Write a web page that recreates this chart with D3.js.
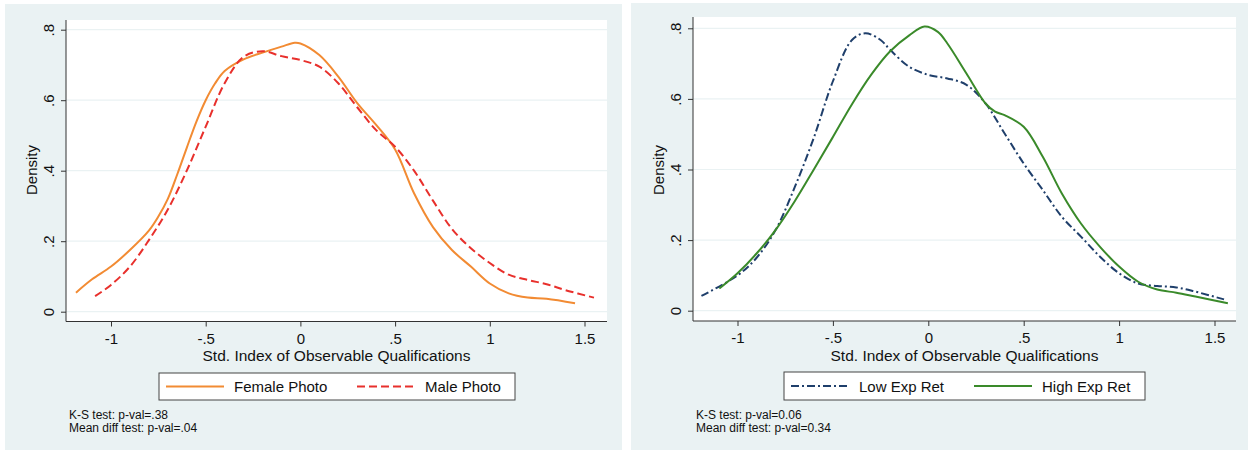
<!DOCTYPE html>
<html>
<head>
<meta charset="utf-8">
<script src="https://cdn.jsdelivr.net/npm/d3@7"></script>
<style>
  html, body { margin: 0; padding: 0; background: #ffffff; }
  svg { display: block; font-family: "Liberation Sans", Arial, Helvetica, sans-serif; }
</style>
</head>
<body>
<svg id="chart" width="1250" height="453"></svg>
<script>
// ---------- DATA ----------
const xTicks = [-1, -0.5, 0, 0.5, 1, 1.5];
const xTickLabels = ["-1", "-.5", "0", ".5", "1", "1.5"];
const yTicks = [0, 0.2, 0.4, 0.6, 0.8];
const yTickLabels = ["0", ".2", ".4", ".6", ".8"];

const xTitle = "Std. Index of Observable Qualifications";
const yTitle = "Density";

// Left panel
const femaleX = [-1.185, -1.1, -1.0, -0.9, -0.8, -0.75, -0.7, -0.65, -0.6, -0.55, -0.5, -0.45, -0.4, -0.3, -0.2, -0.1, -0.03, 0.0, 0.1, 0.2, 0.3, 0.4, 0.5, 0.6, 0.7, 0.8, 0.9, 1.0, 1.1, 1.2, 1.3, 1.45];
const femaleY = [0.054, 0.092, 0.128, 0.175, 0.23, 0.27, 0.32, 0.39, 0.465, 0.538, 0.60, 0.648, 0.683, 0.716, 0.735, 0.752, 0.763, 0.761, 0.728, 0.667, 0.592, 0.53, 0.46, 0.336, 0.24, 0.175, 0.128, 0.08, 0.052, 0.04, 0.037, 0.024];
const maleX = [-1.084, -1.0, -0.9, -0.8, -0.7, -0.6, -0.5, -0.4, -0.3, -0.2, -0.1, 0.0, 0.1, 0.2, 0.3, 0.4, 0.5, 0.6, 0.7, 0.8, 0.9, 1.0, 1.1, 1.2, 1.3, 1.4, 1.55];
const maleY = [0.044, 0.076, 0.128, 0.203, 0.29, 0.40, 0.525, 0.648, 0.723, 0.739, 0.725, 0.714, 0.695, 0.648, 0.58, 0.515, 0.468, 0.40, 0.315, 0.235, 0.18, 0.138, 0.105, 0.09, 0.078, 0.061, 0.04];

// Right panel
const lowX = [-1.189, -1.0, -0.9, -0.8, -0.7, -0.6, -0.5, -0.4, -0.33, -0.25, -0.2, -0.1, 0.0, 0.1, 0.2, 0.3, 0.4, 0.5, 0.6, 0.7, 0.8, 0.9, 1.0, 1.1, 1.2, 1.3, 1.4, 1.55];
const lowY = [0.042, 0.10, 0.15, 0.229, 0.35, 0.49, 0.65, 0.767, 0.786, 0.767, 0.739, 0.691, 0.668, 0.658, 0.64, 0.587, 0.502, 0.417, 0.342, 0.266, 0.21, 0.153, 0.106, 0.077, 0.07, 0.066, 0.054, 0.032];
const highX = [-1.095, -1.0, -0.9, -0.8, -0.7, -0.6, -0.5, -0.4, -0.3, -0.2, -0.1, -0.02, 0.05, 0.1, 0.2, 0.3, 0.35, 0.4, 0.5, 0.6, 0.7, 0.8, 0.9, 1.0, 1.1, 1.2, 1.3, 1.4, 1.57];
const highY = [0.063, 0.106, 0.162, 0.229, 0.31, 0.40, 0.492, 0.585, 0.668, 0.735, 0.78, 0.805, 0.79, 0.757, 0.672, 0.587, 0.564, 0.554, 0.521, 0.436, 0.332, 0.247, 0.181, 0.125, 0.082, 0.06, 0.051, 0.04, 0.021];

const leftLabels = ["Female Photo", "Male Photo"];
const rightLabels = ["Low Exp Ret", "High Exp Ret"];
const leftNotes = ["K-S test: p-val=.38", "Mean diff test: p-val=.04"];
const rightNotes = ["K-S test: p-val=0.06", "Mean diff test: p-val=0.34"];

// ---------- DRAW ----------
const svg = d3.select("#chart");
const BG = "#eaf2f3";

function zip(xs, ys) { return xs.map((x, i) => ({ x: x, y: ys[i] })); }

function drawPanel(cfg) {
  const g = svg.append("g");
  g.append("rect").attr("x", cfg.bg[0]).attr("y", cfg.bg[1])
    .attr("width", cfg.bg[2]).attr("height", cfg.bg[3]).attr("fill", BG);

  const x = d3.scaleLinear().domain([-1, 1.5]).range([cfg.x0, cfg.x15]);
  const y = d3.scaleLinear().domain([0, 0.8]).range([cfg.y0, cfg.y08]);

  g.append("rect").attr("x", cfg.left).attr("y", cfg.top)
    .attr("width", cfg.right - cfg.left).attr("height", cfg.bottom - cfg.top)
    .attr("fill", "#ffffff");

  g.append("g").selectAll("line").data(yTicks).join("line")
    .attr("x1", cfg.left).attr("x2", cfg.right)
    .attr("y1", d => y(d)).attr("y2", d => y(d))
    .attr("stroke", BG).attr("stroke-width", 1.2);

  const yAxis = d3.axisLeft(y).tickValues(yTicks)
    .tickFormat((d, i) => yTickLabels[i]).tickSize(5).tickPadding(4);
  const ya = g.append("g").attr("transform", `translate(${cfg.left},0)`).call(yAxis);
  ya.select(".domain").remove();
  ya.selectAll(".tick line").attr("stroke", "#333");
  ya.selectAll(".tick text")
    .attr("font-size", 15).attr("fill", "#111")
    .attr("x", null).attr("dy", null)
    .attr("text-anchor", "middle")
    .attr("transform", "translate(-18,0) rotate(-90)")
    .attr("dominant-baseline", "central");
  g.append("line").attr("x1", cfg.left).attr("x2", cfg.left)
    .attr("y1", cfg.top).attr("y2", cfg.bottom)
    .attr("stroke", "#333").attr("stroke-width", 1);

  const xAxis = d3.axisBottom(x).tickValues(xTicks)
    .tickFormat((d, i) => xTickLabels[i]).tickSize(5).tickPadding(6);
  const xa = g.append("g").attr("transform", `translate(0,${cfg.bottom})`).call(xAxis);
  xa.select(".domain").remove();
  xa.selectAll(".tick line").attr("stroke", "#333");
  xa.selectAll(".tick text").attr("font-size", 15).attr("fill", "#111")
    .attr("y", 16.5).attr("dy", null).attr("dominant-baseline", "central");
  g.append("line").attr("x1", cfg.left).attr("x2", cfg.right)
    .attr("y1", cfg.bottom).attr("y2", cfg.bottom)
    .attr("stroke", "#333").attr("stroke-width", 1);

  g.append("text").attr("x", (cfg.left + cfg.right) / 2 + cfg.titleDx).attr("y", 355)
    .attr("text-anchor", "middle").attr("dominant-baseline", "central")
    .attr("font-size", 15.5).attr("fill", "#111").text(xTitle);
  g.append("text")
    .attr("transform", `translate(${cfg.left - 35},${cfg.densY}) rotate(-90)`)
    .attr("text-anchor", "middle").attr("dominant-baseline", "central")
    .attr("font-size", 15).attr("fill", "#111").text(yTitle);

  const line = d3.line().x(d => x(d.x)).y(d => y(d.y)).curve(d3.curveCatmullRom.alpha(0.5));
  cfg.series.forEach(s => {
    g.append("path").datum(zip(s.xs, s.ys))
      .attr("d", line).attr("fill", "none")
      .attr("stroke", s.color).attr("stroke-width", 2)
      .attr("stroke-dasharray", s.dash || null)
      .attr("stroke-linejoin", "round");
  });

  const L = cfg.legend;
  g.append("rect").attr("x", L.x).attr("y", L.y).attr("width", L.w).attr("height", L.h)
    .attr("fill", "#ffffff").attr("stroke", "#444").attr("stroke-width", 1);
  cfg.series.forEach((s, i) => {
    const lx = L.items[i];
    const cy = L.y + L.h / 2;
    g.append("line").attr("x1", lx).attr("x2", lx + 58).attr("y1", cy).attr("y2", cy)
      .attr("stroke", s.color).attr("stroke-width", 2)
      .attr("stroke-dasharray", s.dash || null);
    g.append("text").attr("x", lx + 68).attr("y", cy)
      .attr("dominant-baseline", "central").attr("font-size", 15).attr("fill", "#111")
      .text(s.label);
  });

  cfg.notes.forEach((t, i) => {
    g.append("text").attr("x", cfg.noteX).attr("y", 415 + i * 12.5)
      .attr("dominant-baseline", "central").attr("font-size", 12).attr("fill", "#111")
      .text(t);
  });
}

drawPanel({
  bg: [5, 4, 617, 446],
  left: 66, right: 607, top: 20, bottom: 321.5,
  x0: 111, x15: 584.5, y0: 311.7, y08: 29.7,
  titleDx: 0, densY: 170,
  series: [
    { xs: femaleX, ys: femaleY, color: "#f28b33", dash: null, label: leftLabels[0] },
    { xs: maleX, ys: maleY, color: "#e8302c", dash: "8,4", label: leftLabels[1] }
  ],
  legend: { x: 159, y: 373, w: 356, h: 27, items: [166, 357] },
  noteX: 69, notes: leftNotes
});

drawPanel({
  bg: [631, 3, 617, 447],
  left: 693, right: 1236, top: 17, bottom: 321,
  x0: 737.5, x15: 1214.5, y0: 310.7, y08: 28.3,
  titleDx: 0, densY: 170,
  series: [
    { xs: lowX, ys: lowY, color: "#1f3f6b", dash: "8,3,2,3", label: rightLabels[0] },
    { xs: highX, ys: highY, color: "#3a8a2a", dash: null, label: rightLabels[1] }
  ],
  legend: { x: 784, y: 372, w: 361, h: 28, items: [791, 974] },
  noteX: 696, notes: rightNotes
});
</script>
</body>
</html>
